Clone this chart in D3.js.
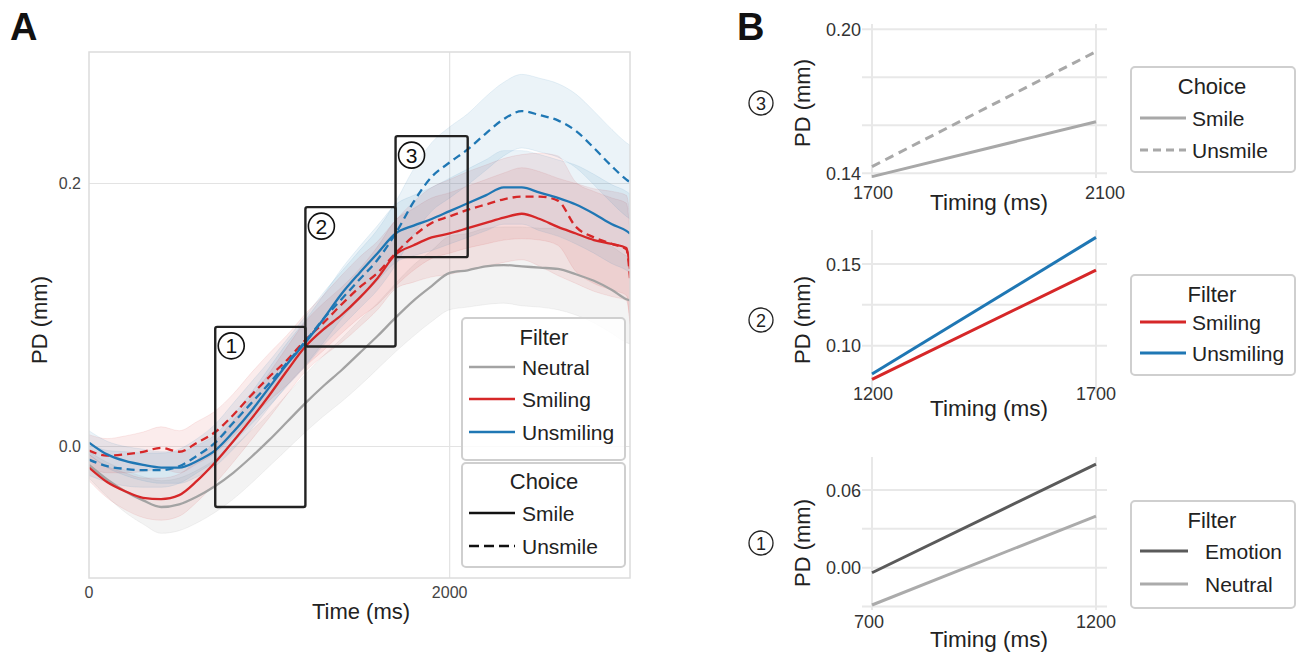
<!DOCTYPE html>
<html><head><meta charset="utf-8">
<script src="https://cdn.jsdelivr.net/npm/d3@7"></script>
<style>body{margin:0;background:#fff;} svg{display:block;font-family:"Liberation Sans",Arial,sans-serif;}</style>
</head><body>
<svg id="c" width="1306" height="655"></svg>
<script>
// ---------- DATA : panel A ----------
const times = [0,100,200,300,400,500,600,700,800,900,1000,1100,1200,1300,1400,1500,1600,1700,1800,1900,2000,2100,2200,2300,2400,2500,2600,2700,2800,2900,2980,3000];
const neutralSmile     = [-0.014,-0.025,-0.034,-0.041,-0.046,-0.044,-0.038,-0.030,-0.020,-0.008,0.005,0.019,0.033,0.046,0.058,0.071,0.084,0.098,0.111,0.122,0.132,0.134,0.137,0.138,0.137,0.136,0.135,0.131,0.126,0.119,0.112,0.111];
const smilingSmile     = [-0.016,-0.027,-0.034,-0.039,-0.040,-0.037,-0.026,-0.012,0.004,0.021,0.039,0.058,0.076,0.089,0.100,0.113,0.128,0.146,0.153,0.159,0.162,0.166,0.170,0.174,0.177,0.173,0.167,0.162,0.157,0.154,0.151,0.135];
const smilingUnsmile   = [-0.003,-0.007,-0.006,-0.004,-0.001,-0.004,0.003,0.011,0.024,0.039,0.053,0.066,0.081,0.094,0.108,0.121,0.132,0.147,0.160,0.170,0.175,0.180,0.184,0.188,0.190,0.190,0.187,0.167,0.159,0.154,0.150,0.128];
const unsmilingSmile   = [0.003,-0.006,-0.011,-0.014,-0.016,-0.016,-0.011,-0.003,0.011,0.027,0.045,0.063,0.079,0.097,0.116,0.132,0.147,0.162,0.168,0.173,0.179,0.185,0.191,0.197,0.197,0.193,0.189,0.184,0.177,0.169,0.164,0.162];
const unsmilingUnsmile = [-0.010,-0.015,-0.017,-0.018,-0.018,-0.015,-0.007,0.003,0.018,0.033,0.048,0.064,0.080,0.097,0.112,0.127,0.142,0.162,0.186,0.205,0.216,0.226,0.238,0.249,0.255,0.252,0.248,0.240,0.227,0.213,0.203,0.201];
// confidence band half-widths
const neutralSmileCI     = [0.010,0.013,0.016,0.018,0.020,0.020,0.020,0.020,0.020,0.020,0.020,0.021,0.022,0.023,0.024,0.025,0.025,0.026,0.027,0.027,0.028,0.028,0.029,0.029,0.030,0.030,0.031,0.031,0.032,0.033,0.033,0.033];
const smilingSmileCI     = [0.010,0.012,0.014,0.015,0.016,0.016,0.016,0.016,0.016,0.016,0.017,0.018,0.019,0.020,0.021,0.022,0.024,0.026,0.028,0.030,0.031,0.032,0.033,0.034,0.035,0.036,0.037,0.038,0.039,0.040,0.040,0.040];
const smilingUnsmileCI   = [0.012,0.013,0.014,0.015,0.016,0.016,0.016,0.016,0.016,0.017,0.018,0.019,0.020,0.021,0.022,0.023,0.024,0.025,0.026,0.027,0.028,0.029,0.030,0.031,0.032,0.033,0.034,0.034,0.035,0.035,0.035,0.035];
const unsmilingSmileCI   = [0.009,0.010,0.011,0.012,0.012,0.012,0.012,0.012,0.013,0.014,0.015,0.016,0.017,0.018,0.019,0.020,0.021,0.022,0.023,0.024,0.025,0.026,0.027,0.028,0.028,0.029,0.029,0.030,0.030,0.030,0.030,0.030];
const unsmilingUnsmileCI = [0.012,0.012,0.013,0.013,0.013,0.013,0.013,0.014,0.015,0.016,0.017,0.018,0.019,0.020,0.021,0.022,0.023,0.024,0.025,0.026,0.027,0.027,0.028,0.028,0.028,0.028,0.028,0.028,0.028,0.028,0.028,0.028];
const xTicksA = [0, 2000];
const yTicksA = [0.0, 0.2];
const boxTimes = [[700,1200],[1200,1700],[1700,2100]];
const boxPD    = [[-0.046,0.091],[0.076,0.182],[0.144,0.236]];
const boxLabels = ["1","2","3"];
const filterNames = ["Neutral","Smiling","Unsmiling"];
const choiceNames = ["Smile","Unsmile"];

// ---------- DATA : panel B ----------
const b3Times = [1700, 2100];
const b3Smile = [0.1386, 0.1615];
const b3Unsmile = [0.1428, 0.1907];
const b3Grid = [0.14, 0.16, 0.18, 0.20];
const b3Labels = [0.14, 0.20];
const b2Times = [1200, 1700];
const b2Smiling = [0.0794, 0.1463];
const b2Unsmiling = [0.0827, 0.1663];
const b2Grid = [0.10, 0.125, 0.15];
const b2Labels = [0.10, 0.15];
const b1Times = [700, 1200];
const b1Emotion = [-0.0039, 0.080];
const b1Neutral = [-0.0288, 0.0399];
const b1Grid = [-0.03, 0.00, 0.03, 0.06];
const b1Labels = [0.00, 0.06];

// ---------- STYLE ----------
const RED = "#d62728", BLUE = "#1f77b4", GRAY = "#a3a3a3";
const svg = d3.select("#c");

// ---------- PANEL A ----------
const ax = {l:89, r:630, t:52, b:578};
const x = d3.scaleLinear().domain([0,3000]).range([ax.l, ax.r]);
const y = d3.scaleLinear().domain([-0.1,0.3]).range([ax.b, ax.t]);
const gA = svg.append("g");
svg.append("defs").append("clipPath").attr("id","clipA").append("rect")
  .attr("x",ax.l).attr("y",ax.t).attr("width",ax.r-ax.l).attr("height",ax.b-ax.t);

gA.selectAll(".gx").data(xTicksA.filter(d=>d>0)).join("line")
  .attr("x1",d=>x(d)).attr("x2",d=>x(d)).attr("y1",ax.t).attr("y2",ax.b)
  .attr("stroke","#e3e3e3").attr("stroke-width",1.2);
gA.selectAll(".gy").data(yTicksA).join("line")
  .attr("x1",ax.l).attr("x2",ax.r).attr("y1",d=>y(d)).attr("y2",d=>y(d))
  .attr("stroke","#e3e3e3").attr("stroke-width",1.2);

const series = [
  {v:neutralSmile, ci:neutralSmileCI, c:GRAY, fill:"rgba(160,160,160,0.13)", dash:null},
  {v:smilingSmile, ci:smilingSmileCI, c:RED, fill:"rgba(214,39,40,0.09)", dash:null},
  {v:smilingUnsmile, ci:smilingUnsmileCI, c:RED, fill:"rgba(214,39,40,0.09)", dash:"8,5"},
  {v:unsmilingSmile, ci:unsmilingSmileCI, c:BLUE, fill:"rgba(31,119,180,0.09)", dash:null},
  {v:unsmilingUnsmile, ci:unsmilingUnsmileCI, c:BLUE, fill:"rgba(31,119,180,0.09)", dash:"8,5"}
];
const plotG = gA.append("g").attr("clip-path","url(#clipA)");
series.forEach(s=>{
  const pts = times.map((t,i)=>({t, lo:s.v[i]-s.ci[i], hi:s.v[i]+s.ci[i]}));
  plotG.append("path").datum(pts)
    .attr("d", d3.area().curve(d3.curveMonotoneX).x(d=>x(d.t)).y0(d=>y(d.lo)).y1(d=>y(d.hi)))
    .attr("fill", s.fill).attr("stroke", s.fill).attr("stroke-width",1);
});
const line = d3.line().curve(d3.curveMonotoneX);
series.forEach(s=>{
  const pts = times.map((t,i)=>[x(t), y(s.v[i])]);
  plotG.append("path").attr("d", line(pts)).attr("fill","none")
    .attr("stroke", s.c).attr("stroke-width",2.3)
    .attr("stroke-dasharray", s.dash);
});

gA.append("rect").attr("x",ax.l).attr("y",ax.t).attr("width",ax.r-ax.l).attr("height",ax.b-ax.t)
  .attr("fill","none").attr("stroke","#dcdcdc").attr("stroke-width",1.5);

boxTimes.forEach((bt,i)=>{
  const x0=x(bt[0]), x1=x(bt[1]), y0=y(boxPD[i][1]), y1=y(boxPD[i][0]);
  gA.append("rect").attr("x",x0).attr("y",y0).attr("width",x1-x0).attr("height",y1-y0)
    .attr("rx",2).attr("fill","none").attr("stroke","#222").attr("stroke-width",2.4);
  gA.append("circle").attr("cx",x0+16).attr("cy",y0+19).attr("r",13)
    .attr("fill","#fff").attr("fill-opacity",0.6).attr("stroke","#111").attr("stroke-width",1.6);
  gA.append("text").attr("x",x0+16).attr("y",y0+26.5).attr("text-anchor","middle")
    .attr("font-size",21).attr("fill","#111").text(boxLabels[i]);
});

gA.selectAll(".ytl").data(yTicksA).join("text")
  .attr("x",81).attr("y",d=>y(d)+5.5).attr("text-anchor","end")
  .attr("font-size",16).attr("fill","#444").text(d=>d3.format(".1f")(d));
gA.selectAll(".xtl").data(xTicksA).join("text")
  .attr("x",d=>x(d)).attr("y",598).attr("text-anchor","middle")
  .attr("font-size",16).attr("fill","#444").text(d=>d);
gA.append("text").attr("x",361).attr("y",619).attr("text-anchor","middle")
  .attr("font-size",22).attr("fill","#222").text("Time (ms)");
gA.append("text").attr("transform","translate(47,320) rotate(-90)").attr("text-anchor","middle")
  .attr("font-size",22).attr("fill","#222").text("PD (mm)");
svg.append("text").attr("x",10).attr("y",40).attr("font-size",38).attr("font-weight","bold").attr("fill","#111").text("A");
svg.append("text").attr("x",737).attr("y",40).attr("font-size",38).attr("font-weight","bold").attr("fill","#111").text("B");

function legendBox(g,x0,y0,w,h){
  g.append("rect").attr("x",x0).attr("y",y0).attr("width",w).attr("height",h).attr("rx",4)
    .attr("fill","#fff").attr("fill-opacity",0.82).attr("stroke","#cfcfcf").attr("stroke-width",2);
}
legendBox(gA,462,318,163,142);
gA.append("text").attr("x",544).attr("y",345).attr("text-anchor","middle").attr("font-size",22).attr("fill","#222").text("Filter");
const fCols=[GRAY,RED,BLUE], fY=[367,399,432];
filterNames.forEach((n,i)=>{
  gA.append("line").attr("x1",469).attr("x2",515).attr("y1",fY[i]).attr("y2",fY[i]).attr("stroke",fCols[i]).attr("stroke-width",2.5);
  gA.append("text").attr("x",522).attr("y",fY[i]+7.5).attr("font-size",21).attr("fill","#222").text(n);
});
legendBox(gA,462,463,163,104);
gA.append("text").attr("x",544).attr("y",489).attr("text-anchor","middle").attr("font-size",22).attr("fill","#222").text("Choice");
const cY=[513,546], cD=[null,"10,5"];
choiceNames.forEach((n,i)=>{
  gA.append("line").attr("x1",469).attr("x2",515).attr("y1",cY[i]).attr("y2",cY[i]).attr("stroke","#111").attr("stroke-width",2.5).attr("stroke-dasharray",cD[i]);
  gA.append("text").attr("x",522).attr("y",cY[i]+7.5).attr("font-size",21).attr("fill","#222").text(n);
});

// ---------- PANEL B ----------
const bx0 = 872, bx1 = 1096;
function subplot(cfg){
  const g = svg.append("g");
  const xs = d3.scaleLinear().domain(cfg.times).range([bx0,bx1]);
  const ys = d3.scaleLinear().domain(cfg.yDom).range(cfg.yRng);
  g.selectAll(".hg").data(cfg.grid).join("line").attr("x1",bx0-10).attr("x2",bx1+11)
    .attr("y1",d=>ys(d)).attr("y2",d=>ys(d)).attr("stroke","#e8e8e8").attr("stroke-width",2);
  g.selectAll(".vg").data(cfg.times).join("line").attr("x1",d=>xs(d)).attr("x2",d=>xs(d))
    .attr("y1",cfg.vTop).attr("y2",cfg.vBot).attr("stroke","#e8e8e8").attr("stroke-width",2);
  cfg.lines.forEach(l=>{
    g.append("line").attr("x1",xs(cfg.times[0])).attr("x2",xs(cfg.times[1]))
      .attr("y1",ys(l.v[0])).attr("y2",ys(l.v[1])).attr("stroke",l.c).attr("stroke-width",3)
      .attr("stroke-dasharray",l.dash);
  });
  g.selectAll(".yl").data(cfg.labels).join("text").attr("x",861).attr("y",d=>ys(d)+6.5)
    .attr("text-anchor","end").attr("font-size",18).attr("fill","#333").text(d=>d3.format(".2f")(d));
  g.selectAll(".xl").data(cfg.times).join("text").attr("x",(d,i)=>xs(d)+cfg.xlDx[i]).attr("y",cfg.xlY)
    .attr("text-anchor","middle").attr("font-size",18).attr("fill","#333").text(d=>d);
  g.append("text").attr("x",989).attr("y",cfg.tY).attr("text-anchor","middle")
    .attr("font-size",22.5).attr("fill","#222").text("Timing (ms)");
  g.append("text").attr("transform",`translate(810,${cfg.midY}) rotate(-90)`).attr("text-anchor","middle")
    .attr("font-size",22).attr("fill","#222").text("PD (mm)");
  g.append("circle").attr("cx",761).attr("cy",cfg.midY).attr("r",12).attr("fill","none")
    .attr("stroke","#222").attr("stroke-width",1.3);
  g.append("text").attr("x",761).attr("y",cfg.midY+6.5).attr("text-anchor","middle")
    .attr("font-size",18).attr("fill","#222").text(cfg.num);
  legendBox(g,1131,cfg.lg[0],164,cfg.lg[1]-cfg.lg[0]);
  g.append("text").attr("x",1212).attr("y",cfg.lg[0]+27).attr("text-anchor","middle")
    .attr("font-size",22).attr("fill","#222").text(cfg.legTitle);
  cfg.lines.forEach((l,i)=>{
    const yy = cfg.legY[i];
    g.append("line").attr("x1",1140).attr("x2",cfg.legX2).attr("y1",yy).attr("y2",yy)
      .attr("stroke",l.c).attr("stroke-width",3).attr("stroke-dasharray",l.dash?"8,5":null);
    g.append("text").attr("x",cfg.legTx).attr("y",yy+7.5).attr("font-size",21).attr("fill","#222").text(l.name);
  });
}
subplot({times:b3Times, yDom:[0.14,0.20], yRng:[173.3,29.3], grid:b3Grid, labels:b3Labels,
  vTop:24, vBot:178, xlY:199, xlDx:[1,9], tY:210, midY:103, num:"3", lg:[67,172], legTitle:"Choice", legY:[118,150], legX2:1186, legTx:1192,
  lines:[{v:b3Smile,c:"#a8a8a8",dash:null,name:choiceNames[0]},{v:b3Unsmile,c:"#a8a8a8",dash:"9,6",name:choiceNames[1]}]});
subplot({times:b2Times, yDom:[0.10,0.15], yRng:[345.7,264], grid:b2Grid, labels:b2Labels,
  vTop:230, vBot:393, xlY:400, xlDx:[1,0], tY:416, midY:320, num:"2", lg:[275,375], legTitle:"Filter", legY:[322,353], legX2:1186, legTx:1192,
  lines:[{v:b2Smiling,c:RED,dash:null,name:"Smiling"},{v:b2Unsmiling,c:BLUE,dash:null,name:"Unsmiling"}]});
subplot({times:b1Times, yDom:[0.00,0.06], yRng:[567.7,490], grid:b1Grid, labels:b1Labels,
  vTop:457, vBot:610, xlY:628, xlDx:[-3,0], tY:647, midY:543, num:"1", lg:[501,608], legTitle:"Filter", legY:[551,584], legX2:1188, legTx:1205,
  lines:[{v:b1Emotion,c:"#5a5a5a",dash:null,name:"Emotion"},{v:b1Neutral,c:"#ababab",dash:null,name:"Neutral"}]});
</script>
</body></html>
